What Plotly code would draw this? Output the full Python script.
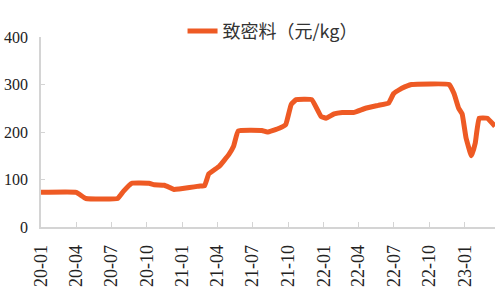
import plotly.graph_objects as go

dates = ["2020-01-01", "2020-04-01", "2020-04-26", "2020-07-17", "2020-08-01", "2020-08-23",
         "2020-10-06", "2020-10-20", "2020-11-15", "2020-12-10", "2020-12-23", "2021-01-19",
         "2021-02-12", "2021-02-27", "2021-03-10", "2021-04-06", "2021-05-01", "2021-05-13",
         "2021-05-25", "2021-07-25", "2021-08-08", "2021-09-08", "2021-09-25", "2021-10-09",
         "2021-10-22", "2021-12-01", "2021-12-25", "2022-01-07", "2022-01-28", "2022-02-18",
         "2022-03-19", "2022-04-19", "2022-05-22", "2022-06-18", "2022-07-01", "2022-07-22",
         "2022-08-16", "2022-11-21", "2022-12-04", "2022-12-16", "2022-12-25", "2023-01-04",
         "2023-01-18", "2023-01-28", "2023-02-07", "2023-02-28", "2023-03-20"]
prices = [73, 73, 60, 60, 75, 92,
          92, 89, 88, 79, 80, 83,
          86, 87, 112, 128, 153, 170,
          202, 203, 200, 208, 216, 258,
          268, 268, 233, 229, 238, 241,
          241, 250, 256, 261, 281, 292,
          300, 300, 281, 250, 238, 188,
          150, 177, 229, 229, 212]

tick_vals = ["2020-01-01", "2020-04-01", "2020-07-01", "2020-10-01", "2021-01-01", "2021-04-01",
             "2021-07-01", "2021-10-01", "2022-01-01", "2022-04-01", "2022-07-01", "2022-10-01",
             "2023-01-01"]
tick_text = ["20-01", "20-04", "20-07", "20-10", "21-01", "21-04", "21-07", "21-10",
             "22-01", "22-04", "22-07", "22-10", "23-01"]
series_name = "致密料（元/kg）"

fig = go.Figure()
fig.add_trace(go.Scatter(x=dates, y=prices, mode="lines", name=series_name,
                         line=dict(color="#EE5A24", width=5, shape="spline", smoothing=0.3)))

serif = "Liberation Serif, Times New Roman, serif"
fig.update_layout(
    width=500, height=298,
    margin=dict(l=41, r=5, t=37, b=71),
    paper_bgcolor="white", plot_bgcolor="white",
    showlegend=True,
    legend=dict(orientation="h", x=0.51, xanchor="center", y=1.03, yanchor="middle",
                font=dict(family="Noto Sans CJK SC, " + serif, size=18, color="#333333"),
                bgcolor="rgba(0,0,0,0)"),
    xaxis=dict(type="date", range=["2020-01-01", "2023-03-20"],
               tickmode="array", tickvals=tick_vals, ticktext=tick_text,
               tickangle=-90, showgrid=False, zeroline=False,
               showline=True, linecolor="#d4d4d4", linewidth=1.5,
               ticks="inside", ticklen=5, tickcolor="#d4d4d4",
               ticklabelstandoff=9,
               tickfont=dict(family=serif, size=18, color="#222222")),
    yaxis=dict(range=[0, 400], tickvals=[0, 100, 200, 300, 400],
               showgrid=False, zeroline=False,
               showline=True, linecolor="#d4d4d4", linewidth=1.5,
               ticks="inside", ticklen=4, tickcolor="#d4d4d4",
               ticklabelstandoff=8,
               tickfont=dict(family=serif, size=16, color="#222222")),
)

fig.write_html("out.html")
